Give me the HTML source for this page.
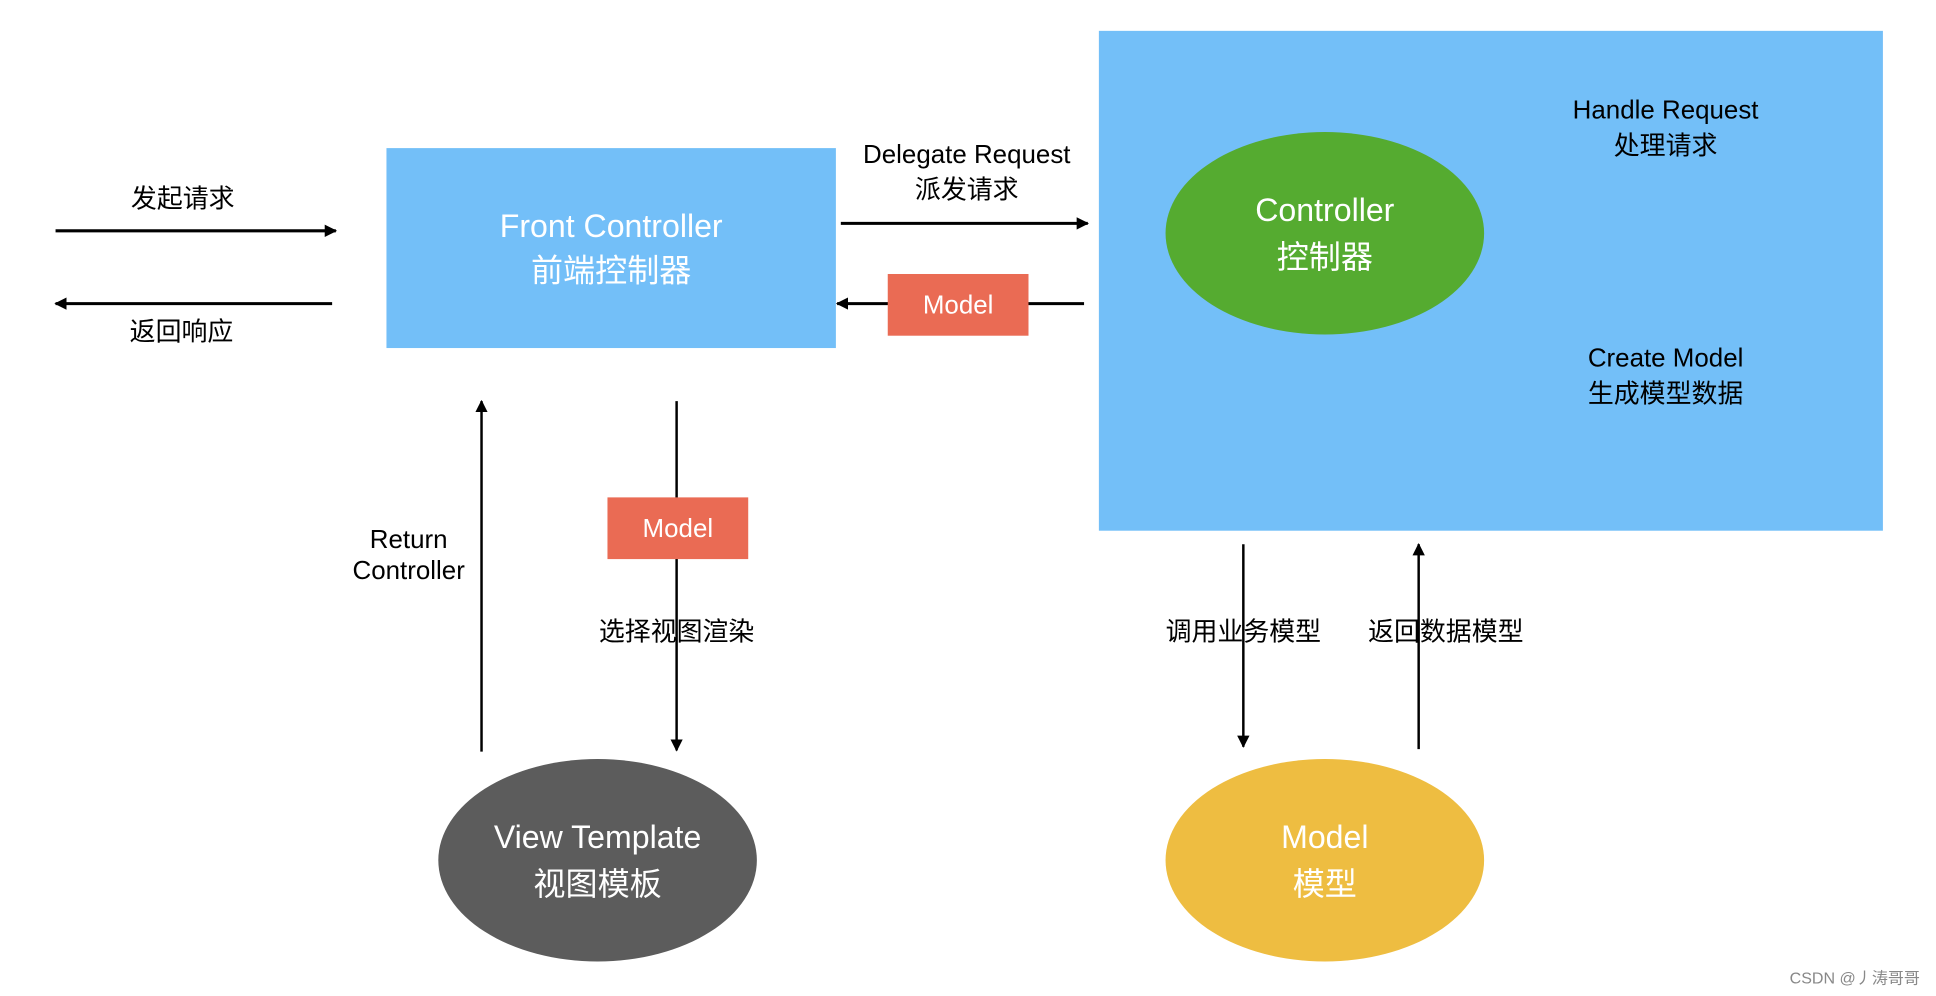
<!DOCTYPE html>
<html><head><meta charset="utf-8"><style>
html,body{margin:0;padding:0;background:#fff;}
svg{display:block;}
text{font-family:"Liberation Sans","Noto Sans CJK SC",sans-serif;}
</style></head><body>
<svg width="1936" height="996" viewBox="0 0 1568 807" preserveAspectRatio="none" xmlns="http://www.w3.org/2000/svg">
<defs>
<marker id="ah" markerWidth="10" markerHeight="10" refX="9" refY="5" orient="auto" markerUnits="userSpaceOnUse"><path d="M0,0 L10,5 L0,10 z" fill="#000"/></marker>
</defs>
<rect width="1568" height="807" fill="#fff"/>
<rect x="313" y="120" width="364" height="162" fill="#73bff8"/>
<rect x="890" y="25" width="635" height="405" fill="#73bff8"/>
<ellipse cx="1073" cy="189" rx="129" ry="82" fill="#55ab30"/>
<ellipse cx="484" cy="697" rx="129" ry="82" fill="#5c5c5c"/>
<ellipse cx="1073" cy="697" rx="129" ry="82" fill="#eebd41"/>
<g fill="#fff" font-size="26" text-anchor="middle">
<text x="495" y="192">Front Controller</text><text x="495" y="228">前端控制器</text>
<text x="1073" y="179">Controller</text><text x="1073" y="217">控制器</text>
<text x="484" y="687">View Template</text><text x="484" y="725">视图模板</text>
<text x="1073" y="687">Model</text><text x="1073" y="725">模型</text>
</g>
<g stroke="#000" stroke-width="2.5" fill="none">
<line x1="45" y1="187" x2="272" y2="187" marker-end="url(#ah)"/>
<line x1="269" y1="246" x2="45" y2="246" marker-end="url(#ah)"/>
<line x1="681" y1="181" x2="881" y2="181" marker-end="url(#ah)"/>
<line x1="878" y1="246" x2="678" y2="246" marker-end="url(#ah)"/>
<line x1="390" y1="609" x2="390" y2="325" stroke-width="2" marker-end="url(#ah)"/>
<line x1="548" y1="325" x2="548" y2="608" stroke-width="2" marker-end="url(#ah)"/>
<line x1="1007" y1="441" x2="1007" y2="605" stroke-width="2" marker-end="url(#ah)"/>
<line x1="1149" y1="607" x2="1149" y2="441" stroke-width="2" marker-end="url(#ah)"/>
</g>
<rect x="719" y="222" width="114" height="50" fill="#ea6b54"/>
<rect x="492" y="403" width="114" height="50" fill="#ea6b54"/>
<g fill="#fff" font-size="21" text-anchor="middle">
<text x="776" y="254">Model</text><text x="549" y="435">Model</text>
</g>
<g fill="#000" font-size="21" text-anchor="middle">
<text x="148" y="168">发起请求</text>
<text x="147" y="276">返回响应</text>
<text x="783" y="132">Delegate Request</text><text x="783" y="161">派发请求</text>
<text x="1349" y="96">Handle Request</text><text x="1349" y="125">处理请求</text>
<text x="1349" y="297">Create Model</text><text x="1349" y="326">生成模型数据</text>
<text x="331" y="444">Return</text><text x="331" y="469">Controller</text>
<text x="548" y="519">选择视图渲染</text>
<text x="1007" y="519">调用业务模型</text>
<text x="1171" y="519">返回数据模型</text>
</g>
<text x="1555" y="797" font-size="13" fill="#888" text-anchor="end">CSDN @丿涛哥哥</text>
</svg>
</body></html>
